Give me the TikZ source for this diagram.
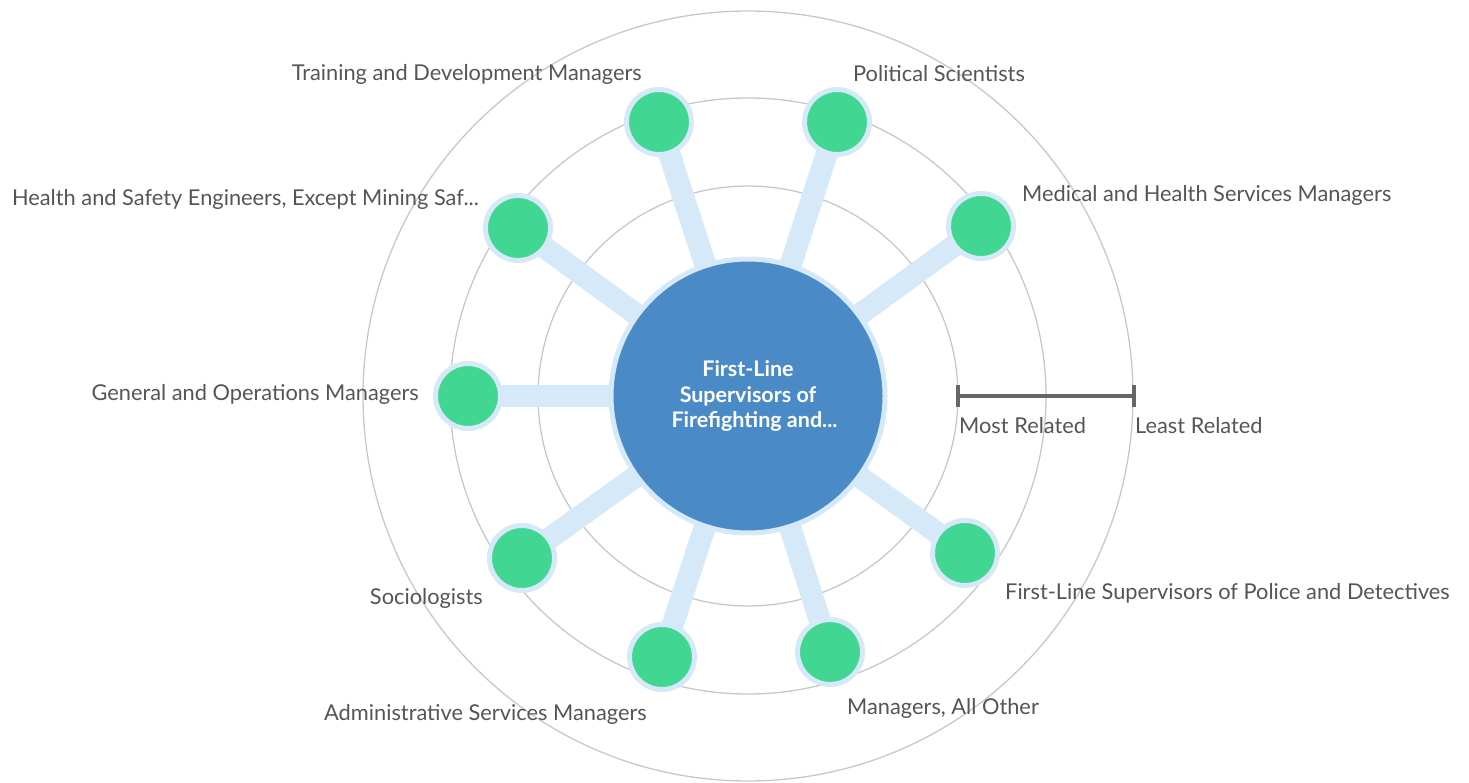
\documentclass[tikz,border=0pt]{standalone}
\usepackage{fontspec}
\setmainfont{Lato}
\pgfdeclarelayer{ringlayer}
\pgfdeclarelayer{spokelayer}
\pgfsetlayers{ringlayer,spokelayer,main}
\definecolor{ringgray}{HTML}{C8C8C8}
\definecolor{spokeblue}{HTML}{D6E9F8}
\definecolor{centerblue}{HTML}{4A8BC7}
\definecolor{nodegreen}{HTML}{42D693}
\definecolor{labelgray}{HTML}{555555}
\definecolor{scalegray}{HTML}{666666}
\tikzset{
  ring/.style={draw=ringgray, line width=1.3pt},
  spoke/.style={draw=spokeblue, line width=22pt},
  hub/.style={circle, fill=centerblue, draw=spokeblue, line width=5pt, minimum size=274pt, inner sep=0pt,
    text=white, font=\fontsize{21.5}{25.5}\selectfont\bfseries, align=center},
  occ/.style={circle, fill=nodegreen, draw=spokeblue, line width=5pt, minimum size=65pt, inner sep=0pt},
  lab/.style={inner sep=0pt, text=labelgray, font=\fontsize{21.8}{25}\selectfont},
  scalebar/.style={draw=scalegray, line width=4pt},
}
\begin{document}
\begin{tikzpicture}[x=1pt,y=-1pt]
\useasboundingbox (0,0) rectangle (1469,783);
\coordinate (o) at (748,396);
\begin{pgfonlayer}{ringlayer}
\draw[ring] (o) circle[radius=210];
\draw[ring] (o) circle[radius=298];
\draw[ring] (o) circle[radius=385];
\end{pgfonlayer}
\node[hub] (c) at (748,396) {First-Line\\Supervisors of\\\hspace*{13pt}Firefighting and...};
\node[occ] (n1) at (659,122) {};
\node[occ] (n2) at (837,122) {};
\node[occ] (n3) at (518,228) {};
\node[occ] (n4) at (981,226) {};
\node[occ] (n5) at (468,396) {};
\node[occ] (n6) at (522,558) {};
\node[occ] (n7) at (662,657) {};
\node[occ] (n8) at (830,652) {};
\node[occ] (n9) at (965,553) {};
\begin{pgfonlayer}{spokelayer}
\foreach \n in {n1,n2,n3,n4,n5,n6,n7,n8,n9}
  \draw[spoke] (c.center) -- (\n.center);
\end{pgfonlayer}
\node[lab, anchor=east] (l1) at (642,74) {Training and Development Managers};
\node[lab, anchor=west] (l2) at (853,74) {Political Scientists};
\node[lab, anchor=east] (l3) at (479,199) {Health and Safety Engineers, Except Mining Saf...};
\node[lab, anchor=west] (l4) at (1022,195) {Medical and Health Services Managers};
\node[lab, anchor=east] (l5) at (419,394) {General and Operations Managers};
\node[lab, anchor=east] (l6) at (483,598) {Sociologists};
\node[lab, anchor=east] (l7) at (647,714) {Administrative Services Managers};
\node[lab, anchor=west] (l8) at (847,708) {Managers, All Other};
\node[lab, anchor=west] (l9) at (1005,593) {First-Line Supervisors of Police and Detectives};
\coordinate (s1) at (958,396);
\coordinate (s2) at (1134,396);
\draw[scalebar] (s1) -- (s2);
\draw[scalebar] ([yshift=-11pt]s1) -- ([yshift=11pt]s1);
\draw[scalebar] ([yshift=-11pt]s2) -- ([yshift=11pt]s2);
\node[lab, anchor=west] (m1) at (959,426) {Most Related};
\node[lab, anchor=west] (m2) at (1135,426) {Least Related};
\end{tikzpicture}
\end{document}
